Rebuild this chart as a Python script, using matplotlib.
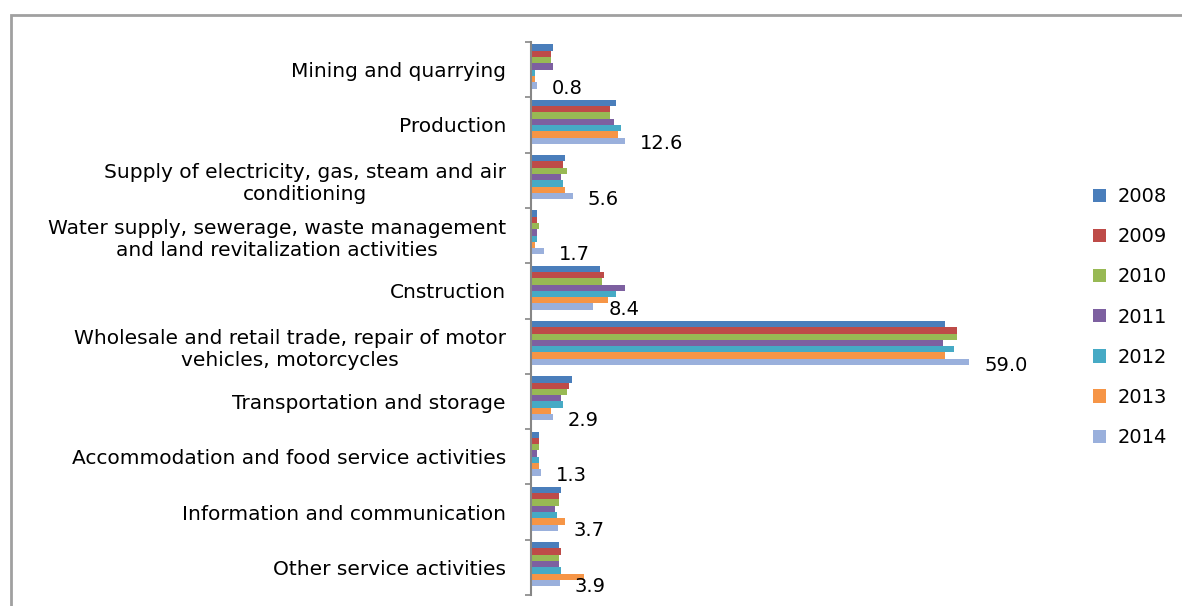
import numpy as np
import matplotlib
matplotlib.use("Agg")
import matplotlib.pyplot as plt
from matplotlib.patches import Rectangle

# data (share, %)
categories = [
    "Mining and quarrying",
    "Production",
    "Supply of electricity, gas, steam and air\nconditioning",
    "Water supply, sewerage, waste management\nand land revitalization activities",
    "Cnstruction",
    "Wholesale and retail trade, repair of motor\nvehicles, motorcycles",
    "Transportation and storage",
    "Accommodation and food service activities",
    "Information and communication",
    "Other service activities",
]
years = ["2008", "2009", "2010", "2011", "2012", "2013", "2014"]

v2008 = [3.0, 11.5, 4.6, 0.8, 9.3, 55.7, 5.5, 1.1, 4.0, 3.8]
v2009 = [2.7, 10.6, 4.3, 0.8, 9.8, 57.3, 5.1, 1.1, 3.8, 4.0]
v2010 = [2.7, 10.6, 4.9, 1.1, 9.6, 57.3, 4.9, 1.1, 3.8, 3.8]
v2011 = [3.0, 11.2, 4.0, 0.8, 12.7, 55.4, 4.0, 0.8, 3.2, 3.8]
v2012 = [0.6, 12.1, 4.3, 0.8, 11.5, 57.0, 4.3, 1.1, 3.5, 4.0]
v2013 = [0.5, 11.7, 4.6, 0.5, 10.4, 55.7, 2.7, 1.1, 4.6, 7.1]
v2014 = [0.8, 12.6, 5.6, 1.7, 8.4, 59.0, 2.9, 1.3, 3.7, 3.9]

series = [v2008, v2009, v2010, v2011, v2012, v2013, v2014]
colors = ["#4A7EBB", "#BE4B48", "#98B954", "#7D60A0", "#46AAC5", "#F69546", "#9AB0DC"]

plt.rcParams["font.family"] = "DejaVu Sans"
fs = 14.5

fig = plt.figure(figsize=(11.82, 6.06), dpi=100)
# outer chart border (cut off at right and bottom)
fig.patches.append(Rectangle((11 / 1182, -0.1), 1.2, (606 - 15) / 606 + 0.1,
                             transform=fig.transFigure, fill=False,
                             edgecolor="#A0A0A0", linewidth=2))

ax = fig.add_axes([531 / 1182, 11 / 606, 0.44, 553 / 606])

n = len(categories)
y = np.arange(n)
h = 0.114
for i, (vals, col, yr) in enumerate(zip(series, colors, years)):
    pos = y - 3.5 * h + i * h
    ax.barh(pos, vals, height=h, color=col, label=yr)

for yy, v in zip(y + 3 * h, v2014):
    ax.annotate(f"{v:.1f}", (v, yy), xytext=(15, 0), textcoords="offset pixels",
                ha="left", va="center", fontsize=14, color="black")

ax.set_ylim(n - 0.5, -0.5)
ax.set_xlim(0, 70)

# boundary ticks + centred category labels
ax.set_yticks(np.arange(n + 1) - 0.5)
ax.set_yticklabels([])
ax.set_yticks(y, minor=True)
ax.set_yticklabels(categories, minor=True, fontsize=fs, multialignment="center")
ax.tick_params(axis="y", which="major", direction="out", length=4.5, width=1.2, color="#868686")
ax.tick_params(axis="y", which="minor", length=0, pad=18)

ax.set_xticks([])
for s in ["top", "right", "bottom"]:
    ax.spines[s].set_visible(False)
ax.spines["left"].set_color("#868686")
ax.spines["left"].set_linewidth(1.5)

fig.legend(loc="upper left", bbox_to_anchor=(1093 / 1182, 1 - 187 / 606), frameon=False,
           fontsize=14, handlelength=0.68, handleheight=0.68, handletextpad=0.57,
           labelspacing=1.09, borderpad=0, borderaxespad=0)

fig.savefig("out.png", dpi=100)
